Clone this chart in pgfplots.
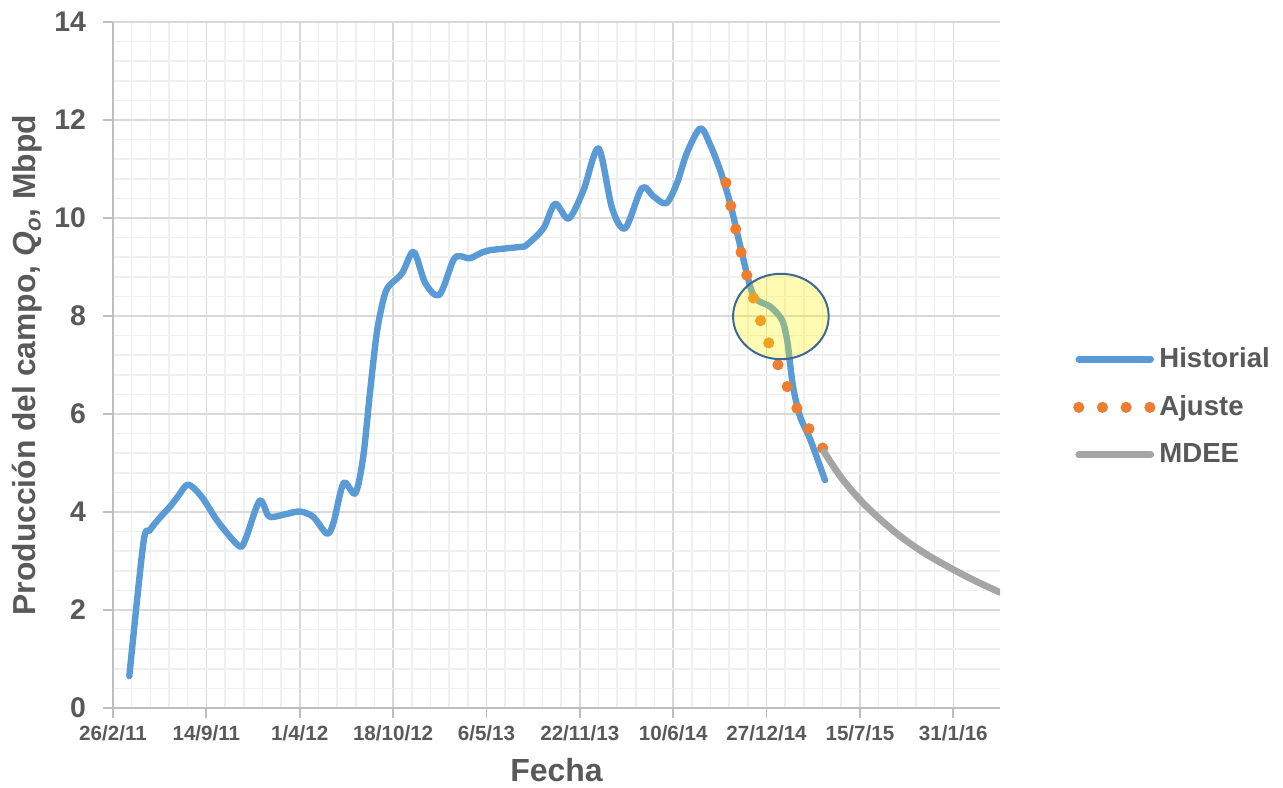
\documentclass[border=0pt]{standalone}
\usepackage{fontspec}
\setmainfont{Liberation Sans}
\usepackage{pgfplots}
\pgfplotsset{compat=1.18}

\definecolor{cHist}{HTML}{5B9BD5}
\definecolor{cFit}{HTML}{ED7D31}
\definecolor{cMdee}{HTML}{A5A5A5}
\definecolor{txt}{HTML}{595959}
\definecolor{gmaj}{HTML}{D9D9D9}
\definecolor{gmin}{HTML}{F0F0F0}
\definecolor{axc}{HTML}{BFBFBF}
\definecolor{ellc}{HTML}{3B6894}

% x = days since 26/2/11
\pgfplotstableread{
d q
35 0.65
65 3.36
79 3.63
100 3.88
122 4.11
140 4.33
161 4.56
190 4.31
222 3.84
254 3.46
274 3.29
286 3.50
314 4.23
332 3.93
344 3.90
372 3.96
401 4.01
429 3.90
458 3.56
472 3.77
494 4.59
519 4.38
536 5.13
551 6.49
565 7.65
579 8.33
590 8.60
619 8.87
644 9.31
669 8.67
699 8.43
729 9.14
744 9.22
765 9.18
801 9.33
872 9.41
886 9.45
922 9.79
947 10.29
976 9.99
1008 10.57
1040 11.42
1069 10.20
1097 9.79
1133 10.61
1158 10.44
1185 10.30
1208 10.71
1229 11.32
1258 11.83
1279 11.50
1301 10.96
1322 10.30
1344 9.41
1365 8.60
1379 8.33
1408 8.19
1433 7.92
1444 7.51
1451 6.97
1458 6.49
1472 5.94
1494 5.47
1525 4.65
}\historial

\pgfplotstableread{
d q
1313 10.72
1334 9.77
1358 8.82
1388 7.88
1406 7.42
1426 6.97
1446 6.52
1467 6.08
1494 5.65
1523 5.27
}\ajuste

\pgfplotstableread{
d q
1523 5.23
1560 4.70
1601 4.24
1640 3.88
1687 3.50
1740 3.15
1801 2.82
1850 2.58
1900 2.36
}\mdee

\begin{document}
\begin{tikzpicture}
\begin{axis}[
  scale only axis,
  width=443.5pt, height=343pt,
  xmin=0, xmax=1900, ymin=0, ymax=14,
  axis x line*=bottom, axis y line*=left,
  axis line style={draw=axc, line width=0.9pt, -},
  xtick={0,200,...,1800},
  xticklabels={26/2/11,14/9/11,1/4/12,18/10/12,6/5/13,22/11/13,10/6/14,27/12/14,15/7/15,31/1/16},
  ytick={0,2,...,14},
  minor x tick num=4, minor y tick num=4,
  grid=both,
  major grid style={draw=gmaj, line width=0.8pt},
  minor grid style={draw=gmin, line width=0.8pt},
  tick align=outside,
  major tick length=5pt,
  minor tick length=0pt,
  tick style={draw=axc, line width=0.9pt},
  /pgf/number format/assume math mode=true,
  xticklabel style={font=\fontsize{10.3}{12}\selectfont\bfseries, text=txt},
  yticklabel style={font=\fontsize{14.2}{17}\selectfont\bfseries, text=txt, xshift=-5pt},
  xlabel={Fecha},
  ylabel={Producción del campo, \textit{Q}\textsubscript{\textit{o}}, Mbpd},
  xlabel style={at={(rel axis cs:0.5,-0.091)}, anchor=center,
    font=\fontsize{16}{19}\selectfont\bfseries, text=txt},
  ylabel style={at={(rel axis cs:-0.097,0.5)}, anchor=center,
    font=\fontsize{15.9}{19}\selectfont\bfseries, text=txt},
  legend style={at={(rel axis cs:1.082,0.439)}, anchor=west, draw=none, fill=none,
    font=\fontsize{13.8}{16}\selectfont\bfseries, text=txt, row sep=8.5pt, inner sep=0pt,
    nodes={inner xsep=1.5pt}},
  legend cell align=left,
  legend image code/.code={\draw[#1] (0pt,0pt) -- (36pt,0pt);},
]
\addplot[cHist, line width=3.2pt, line cap=round, line join=round, smooth, tension=0.5]
  table[x=d, y=q] {\historial};
\addlegendentry{Historial}
\addplot[cFit, line width=5.6pt, line cap=round, dash pattern=on 0pt off 11.86pt, smooth]
  table[x=d, y=q] {\ajuste};
\addlegendentry{Ajuste}
\addplot[cMdee, line width=3.4pt, line cap=round, smooth]
  table[x=d, y=q] {\mdee};
\addlegendentry{MDEE}
\draw[draw=ellc, line width=1pt, fill=yellow, fill opacity=0.3]
  (axis cs:1430.6,7.99) ellipse [x radius=23.9pt, y radius=21.35pt];
\coordinate (bl) at (rel axis cs:0,0);
\coordinate (tr) at (rel axis cs:1,1);
\end{axis}
\pgfresetboundingbox
\path[use as bounding box] ([shift={(-56.5pt,-39.5pt)}]bl) rectangle ([shift={(141.5pt,11pt)}]tr);
\end{tikzpicture}
\end{document}
